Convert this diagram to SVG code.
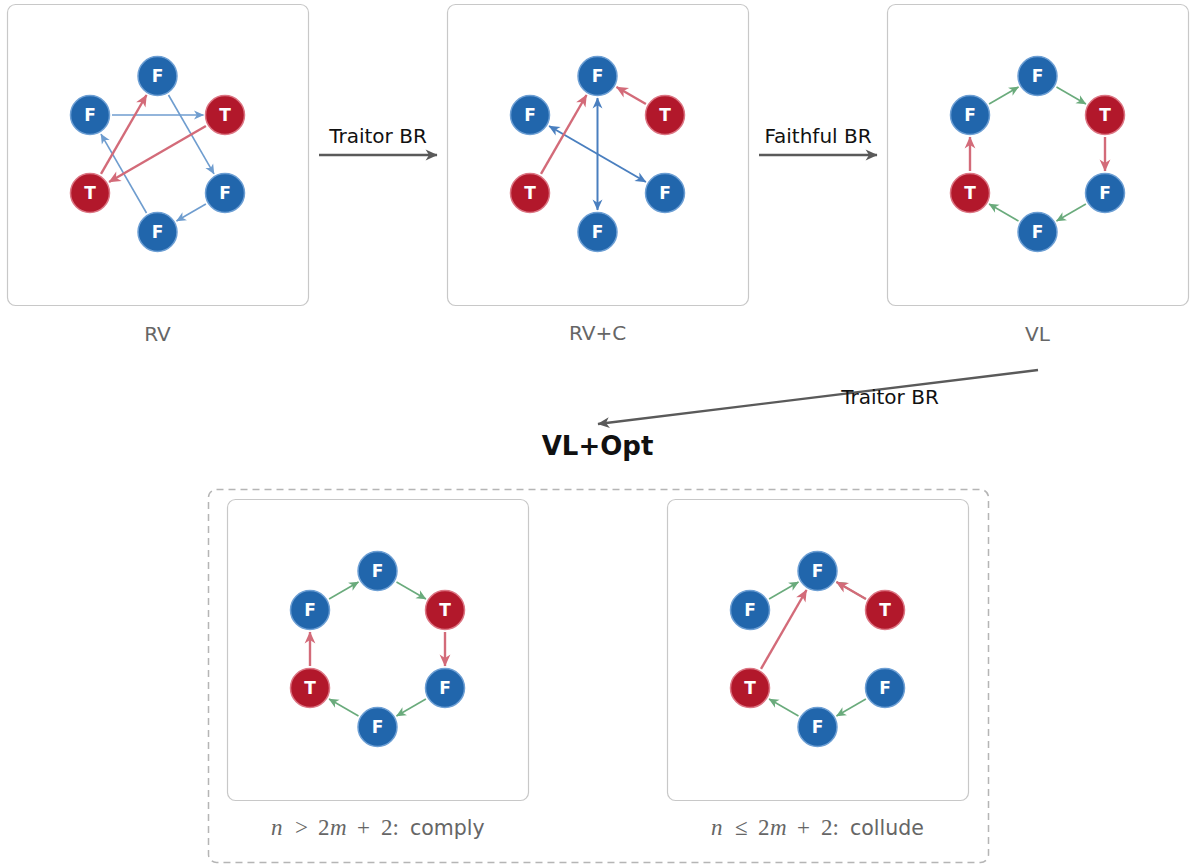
<svg xmlns="http://www.w3.org/2000/svg" width="1192" height="865" viewBox="0 0 1192 865">
<style>
.panel{fill:#fff;stroke:#c8c8c8;stroke-width:1.2}
.nf{fill:#2166ac;stroke:#6d9fd4;stroke-width:1.5}
.nt{fill:#b2182b;stroke:#dc7583;stroke-width:1.5}
.nl{fill:#fff;font-family:"DejaVu Sans",sans-serif;font-weight:bold;font-size:17px;text-anchor:middle}
.lab{fill:#666;font-family:"DejaVu Sans",sans-serif;font-size:20px;text-anchor:middle}
.elab{fill:#111;font-family:"DejaVu Sans",sans-serif;font-size:20px;text-anchor:middle}
.eb{stroke:#6f9dcf;stroke-width:1.6;fill:none;marker-end:url(#mb)}
.eb2{stroke:#4a7fbf;stroke-width:2;fill:none;marker-end:url(#mb2);marker-start:url(#mb2)}
.er{stroke:#d36b79;stroke-width:2.4;fill:none;marker-end:url(#mr)}
.eg{stroke:#6aab7c;stroke-width:1.6;fill:none;marker-end:url(#mg)}
.main{stroke:#5a5a5a;stroke-width:2.4;fill:none;marker-end:url(#mk)}
.math{font-family:"Liberation Serif",serif;font-size:23px;fill:#666}
.mi{font-style:italic}
.word{font-family:"DejaVu Sans",sans-serif;font-size:20.5px}
</style>
<defs>
<marker id="mb" viewBox="0 0 10 10" refX="9.5" refY="5" markerWidth="12" markerHeight="10" markerUnits="userSpaceOnUse" orient="auto-start-reverse"><path d="M0,0.5 L10,5 L0,9.5 L2.8,5 z" fill="#6f9dcf"/></marker>
<marker id="mb2" viewBox="0 0 10 10" refX="9.5" refY="5" markerWidth="13" markerHeight="11" markerUnits="userSpaceOnUse" orient="auto-start-reverse"><path d="M0,0.5 L10,5 L0,9.5 L2.8,5 z" fill="#4a7fbf"/></marker>
<marker id="mr" viewBox="0 0 10 10" refX="9.5" refY="5" markerWidth="15" markerHeight="12" markerUnits="userSpaceOnUse" orient="auto-start-reverse"><path d="M0,0.5 L10,5 L0,9.5 L2.8,5 z" fill="#d36b79"/></marker>
<marker id="mg" viewBox="0 0 10 10" refX="9.5" refY="5" markerWidth="12" markerHeight="10" markerUnits="userSpaceOnUse" orient="auto-start-reverse"><path d="M0,0.5 L10,5 L0,9.5 L2.8,5 z" fill="#6aab7c"/></marker>
<marker id="mk" viewBox="0 0 10 10" refX="9.5" refY="5" markerWidth="16" markerHeight="12" markerUnits="userSpaceOnUse" orient="auto"><path d="M0,0.5 L10,5 L0,9.5 L2.8,5 z" fill="#5a5a5a"/></marker>
</defs>
<rect width="1192" height="865" fill="#fff"/>

<!-- panels -->
<g id="panel-rv"><rect class="panel" x="7.5" y="4.5" width="301" height="301" rx="8"/><text class="lab" x="157.5" y="341">RV</text></g>
<g id="panel-rvc"><rect class="panel" x="447.5" y="4.5" width="301" height="301" rx="8"/><text class="lab" x="597.5" y="340">RV+C</text></g>
<g id="panel-vl"><rect class="panel" x="887.5" y="4.5" width="301" height="301" rx="8"/><text class="lab" x="1037.5" y="341">VL</text></g>
<g id="group-opt">
<rect x="208.5" y="489.5" width="780" height="373" rx="8" fill="none" stroke="#b5b5b5" stroke-width="1.5" stroke-dasharray="7 5"/>
<text x="597.5" y="455" font-family="DejaVu Sans,sans-serif" font-weight="bold" font-size="26" text-anchor="middle" fill="#111">VL+Opt</text>
</g>
<g id="panel-comply"><rect class="panel" x="227.5" y="499.5" width="301" height="301" rx="8"/>
<text class="math" y="835"><tspan class="mi" x="271">n</tspan><tspan x="295">&gt;</tspan><tspan x="318">2</tspan><tspan class="mi" x="330">m</tspan><tspan x="357">+</tspan><tspan x="381">2:</tspan><tspan class="word" x="410">comply</tspan></text></g>
<g id="panel-collude"><rect class="panel" x="667.5" y="499.5" width="301" height="301" rx="8"/>
<text class="math" y="835"><tspan class="mi" x="711">n</tspan><tspan x="735">≤</tspan><tspan x="758">2</tspan><tspan class="mi" x="770">m</tspan><tspan x="797">+</tspan><tspan x="821">2:</tspan><tspan class="word" x="850">collude</tspan></text></g>

<!-- connectors -->
<g id="connectors">
<g transform="translate(157.5,154)">
<line class="eb" x1="-45.5" y1="-39" x2="46" y2="-39"/>
<line class="eb" x1="11" y1="-59" x2="56.5" y2="19.9"/>
<line class="eb" x1="48.4" y1="50" x2="19" y2="67"/>
<line class="eb" x1="-11" y1="59" x2="-56.5" y2="-19.9"/>
<line class="er" x1="-56.5" y1="19.9" x2="-11" y2="-59"/>
<line class="er" x1="48.4" y1="-28" x2="-48.4" y2="28"/>
</g>
<g transform="translate(597.5,154)">
<line class="eb2" x1="0" y1="-56" x2="0" y2="56"/>
<line class="eb2" x1="-48.4" y1="-28" x2="48.4" y2="28"/>
<line class="er" x1="-56.5" y1="19.9" x2="-11" y2="-59"/>
<line class="er" x1="48.4" y1="-50" x2="19" y2="-67"/>
</g>
<g transform="translate(1037.5,154)">
<line class="eg" x1="-48.4" y1="-50" x2="-19" y2="-67"/>
<line class="eg" x1="19" y1="-67" x2="48.4" y2="-50"/>
<line class="er" x1="67.5" y1="-17" x2="67.5" y2="17"/>
<line class="eg" x1="48.4" y1="50" x2="19" y2="67"/>
<line class="eg" x1="-19" y1="67" x2="-48.4" y2="50"/>
<line class="er" x1="-67.5" y1="17" x2="-67.5" y2="-17"/>
</g>
<g transform="translate(377.5,649)">
<line class="eg" x1="-48.4" y1="-50" x2="-19" y2="-67"/>
<line class="eg" x1="19" y1="-67" x2="48.4" y2="-50"/>
<line class="er" x1="67.5" y1="-17" x2="67.5" y2="17"/>
<line class="eg" x1="48.4" y1="50" x2="19" y2="67"/>
<line class="eg" x1="-19" y1="67" x2="-48.4" y2="50"/>
<line class="er" x1="-67.5" y1="17" x2="-67.5" y2="-17"/>
</g>
<g transform="translate(817.5,649)">
<line class="eg" x1="-48.4" y1="-50" x2="-19" y2="-67"/>
<line class="eg" x1="48.4" y1="-50" x2="19" y2="-67"/>
<line class="er" x1="48.4" y1="-50" x2="19" y2="-67"/>
<line class="er" x1="-56.5" y1="19.9" x2="-11" y2="-59"/>
<line class="eg" x1="48.4" y1="50" x2="19" y2="67"/>
<line class="eg" x1="-19" y1="67" x2="-48.4" y2="50"/>
</g>
<line class="main" x1="319" y1="155" x2="437" y2="155"/>
<text class="elab" x="378" y="143">Traitor BR</text>
<line class="main" x1="759" y1="155" x2="877" y2="155"/>
<text class="elab" x="818" y="143">Faithful BR</text>
<line class="main" x1="1038" y1="370" x2="598" y2="424"/>
<text class="elab" x="890" y="404">Traitor BR</text>
</g>

<!-- nodes -->
<g id="rv-f1"><circle class="nf" cx="157.5" cy="76" r="19.5"/><text class="nl" x="157.5" y="82">F</text></g>
<g id="rv-f2"><circle class="nf" cx="90" cy="115" r="19.5"/><text class="nl" x="90" y="121">F</text></g>
<g id="rv-t1"><circle class="nt" cx="225" cy="115" r="19.5"/><text class="nl" x="225" y="121">T</text></g>
<g id="rv-t2"><circle class="nt" cx="90" cy="193" r="19.5"/><text class="nl" x="90" y="199">T</text></g>
<g id="rv-f3"><circle class="nf" cx="225" cy="193" r="19.5"/><text class="nl" x="225" y="199">F</text></g>
<g id="rv-f4"><circle class="nf" cx="157.5" cy="232" r="19.5"/><text class="nl" x="157.5" y="238">F</text></g>

<g id="rvc-f1"><circle class="nf" cx="597.5" cy="76" r="19.5"/><text class="nl" x="597.5" y="82">F</text></g>
<g id="rvc-f2"><circle class="nf" cx="530" cy="115" r="19.5"/><text class="nl" x="530" y="121">F</text></g>
<g id="rvc-t1"><circle class="nt" cx="665" cy="115" r="19.5"/><text class="nl" x="665" y="121">T</text></g>
<g id="rvc-t2"><circle class="nt" cx="530" cy="193" r="19.5"/><text class="nl" x="530" y="199">T</text></g>
<g id="rvc-f3"><circle class="nf" cx="665" cy="193" r="19.5"/><text class="nl" x="665" y="199">F</text></g>
<g id="rvc-f4"><circle class="nf" cx="597.5" cy="232" r="19.5"/><text class="nl" x="597.5" y="238">F</text></g>

<g id="vl-f1"><circle class="nf" cx="1037.5" cy="76" r="19.5"/><text class="nl" x="1037.5" y="82">F</text></g>
<g id="vl-f2"><circle class="nf" cx="970" cy="115" r="19.5"/><text class="nl" x="970" y="121">F</text></g>
<g id="vl-t1"><circle class="nt" cx="1105" cy="115" r="19.5"/><text class="nl" x="1105" y="121">T</text></g>
<g id="vl-t2"><circle class="nt" cx="970" cy="193" r="19.5"/><text class="nl" x="970" y="199">T</text></g>
<g id="vl-f3"><circle class="nf" cx="1105" cy="193" r="19.5"/><text class="nl" x="1105" y="199">F</text></g>
<g id="vl-f4"><circle class="nf" cx="1037.5" cy="232" r="19.5"/><text class="nl" x="1037.5" y="238">F</text></g>

<g id="cp-f1"><circle class="nf" cx="377.5" cy="571" r="19.5"/><text class="nl" x="377.5" y="577">F</text></g>
<g id="cp-f2"><circle class="nf" cx="310" cy="610" r="19.5"/><text class="nl" x="310" y="616">F</text></g>
<g id="cp-t1"><circle class="nt" cx="445" cy="610" r="19.5"/><text class="nl" x="445" y="616">T</text></g>
<g id="cp-t2"><circle class="nt" cx="310" cy="688" r="19.5"/><text class="nl" x="310" y="694">T</text></g>
<g id="cp-f3"><circle class="nf" cx="445" cy="688" r="19.5"/><text class="nl" x="445" y="694">F</text></g>
<g id="cp-f4"><circle class="nf" cx="377.5" cy="727" r="19.5"/><text class="nl" x="377.5" y="733">F</text></g>

<g id="cl-f1"><circle class="nf" cx="817.5" cy="571" r="19.5"/><text class="nl" x="817.5" y="577">F</text></g>
<g id="cl-f2"><circle class="nf" cx="750" cy="610" r="19.5"/><text class="nl" x="750" y="616">F</text></g>
<g id="cl-t1"><circle class="nt" cx="885" cy="610" r="19.5"/><text class="nl" x="885" y="616">T</text></g>
<g id="cl-t2"><circle class="nt" cx="750" cy="688" r="19.5"/><text class="nl" x="750" y="694">T</text></g>
<g id="cl-f3"><circle class="nf" cx="885" cy="688" r="19.5"/><text class="nl" x="885" y="694">F</text></g>
<g id="cl-f4"><circle class="nf" cx="817.5" cy="727" r="19.5"/><text class="nl" x="817.5" y="733">F</text></g>
</svg>
